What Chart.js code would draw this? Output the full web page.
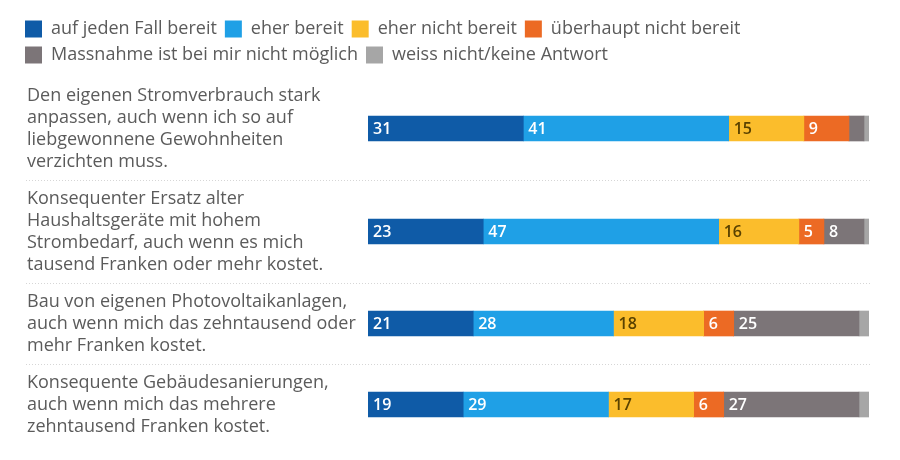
<!DOCTYPE html>
<html>
<head>
<meta charset="utf-8">
<script src="https://cdn.jsdelivr.net/npm/chart.js@4/dist/chart.umd.min.js"></script>
<style>
  html, body { margin: 0; padding: 0; background: #ffffff; }
  #wrap { width: 900px; height: 460px; }
</style>
</head>
<body>
<div id="wrap"><canvas id="c" width="900" height="460"></canvas></div>
<script>
// ---- data ----
const categories = [
  ["Den eigenen Stromverbrauch stark", "anpassen, auch wenn ich so auf", "liebgewonnene Gewohnheiten", "verzichten muss."],
  ["Konsequenter Ersatz alter", "Haushaltsgeräte mit hohem", "Strombedarf, auch wenn es mich", "tausend Franken oder mehr kostet."],
  ["Bau von eigenen Photovoltaikanlagen,", "auch wenn mich das zehntausend oder", "mehr Franken kostet."],
  ["Konsequente Gebäudesanierungen,", "auch wenn mich das mehrere", "zehntausend Franken kostet."]
];
const seriesNames = [
  "auf jeden Fall bereit",
  "eher bereit",
  "eher nicht bereit",
  "überhaupt nicht bereit",
  "Massnahme ist bei mir nicht möglich",
  "weiss nicht/keine Antwort"
];
const aufJedenFall = [31, 23, 21, 19];
const eherBereit = [41, 47, 28, 29];
const eherNicht = [15, 16, 18, 17];
const ueberhauptNicht = [9, 5, 6, 6];
const nichtMoeglich = [3, 8, 25, 27];
const weissNicht = [1, 1, 2, 2];

// ---- styles ----
const colors = ["#0f5ba7", "#1fa0e6", "#fbbd2c", "#ec6a24", "#7c7578", "#a6a6a6"];
const labelColors = ["#ffffff", "#ffffff", "#5a4200", "#ffffff", "#ffffff", "#ffffff"];
const FONT = "'Open Sans', 'Noto Sans', sans-serif";
const TEXT = "#5b5b5b";
const ROW_PAD = 0.68;     // extra row height (in label-line units)
const LABEL_INSET = 10;   // shift of category labels from scale left edge
const MIN_LABEL = 5;

// Category scale whose rows are as tall as their multi-line labels
class WeightedCategoryScale extends Chart.CategoryScale {
  static id = 'weightedCategory';
  static defaults = Chart.CategoryScale.defaults;
  _weights() {
    const labels = this.getLabels();
    return labels.map(l => (Array.isArray(l) ? l.length : 1) + ROW_PAD);
  }
  getPixelForValue(value) {
    if (typeof value !== 'number') value = this.parse(value);
    if (value === null || isNaN(value)) return NaN;
    const w = this._weights();
    const total = w.reduce((a, b) => a + b, 0);
    let i = Math.floor(value + 0.5);
    i = Math.max(0, Math.min(w.length - 1, i));
    const frac = value + 0.5 - i;
    let pos = 0;
    for (let k = 0; k < i; k++) pos += w[k];
    pos += frac * w[i];
    return this.getPixelForDecimal(pos / total);
  }
  getValueForPixel(pixel) {
    const w = this._weights();
    const total = w.reduce((a, b) => a + b, 0);
    const d = this.getDecimalForPixel(pixel) * total;
    let pos = 0;
    for (let k = 0; k < w.length; k++) {
      if (d <= pos + w[k]) return k;
      pos += w[k];
    }
    return w.length - 1;
  }
  _calculatePadding(first, last, sin, cos) {
    super._calculatePadding(first, last, sin, cos);
    this.paddingTop = 0;
    this.paddingBottom = 0;
  }
  _getYAxisLabelAlignment(tl) {
    const r = super._getYAxisLabelAlignment(tl);
    r.x += LABEL_INSET;
    return r;
  }
}
Chart.register(WeightedCategoryScale);

const seriesValues = [aufJedenFall, eherBereit, eherNicht, ueberhauptNicht, nichtMoeglich, weissNicht];

const datasets = seriesValues.map((vals, i) => ({
  label: seriesNames[i],
  data: vals,
  backgroundColor: colors[i],
  borderWidth: 0,
  barThickness: 25
}));

const separatorPlugin = {
  id: 'separators',
  beforeDatasetsDraw(chart) {
    const y = chart.scales.y;
    const ctx = chart.ctx;
    const n = categories.length;
    ctx.save();
    ctx.strokeStyle = '#d6d6d6';
    ctx.lineWidth = 1;
    ctx.setLineDash([1, 2]);
    for (let i = 0; i < n - 1; i++) {
      const py = Math.round(y.getPixelForValue(i + 0.5)) + 0.5;
      ctx.beginPath();
      ctx.moveTo(26, py);
      ctx.lineTo(chart.chartArea.right + 1, py);
      ctx.stroke();
    }
    ctx.restore();
  }
};

const valueLabelPlugin = {
  id: 'valueLabels',
  afterDatasetsDraw(chart) {
    const ctx = chart.ctx;
    ctx.save();
    ctx.font = "600 16px " + FONT;
    ctx.textAlign = 'left';
    ctx.textBaseline = 'middle';
    chart.data.datasets.forEach((ds, di) => {
      const meta = chart.getDatasetMeta(di);
      meta.data.forEach((el, idx) => {
        const v = ds.data[idx];
        if (v < MIN_LABEL) return;
        const start = Math.min(el.base, el.x);
        ctx.fillStyle = labelColors[di];
        ctx.fillText(String(v), start + 5, el.y + 1);
      });
    });
    ctx.restore();
  }
};

const legendSpacePlugin = {
  id: 'legendSpace',
  afterInit(chart) {
    const lg = chart.legend;
    if (!lg) return;
    const orig = lg.fit;
    lg.fit = function () {
      orig.call(this);
      this.height += 3;
    };
  }
};

new Chart(document.getElementById('c'), {
  type: 'bar',
  data: { labels: categories, datasets },
  plugins: [separatorPlugin, valueLabelPlugin, legendSpacePlugin],
  options: {
    indexAxis: 'y',
    responsive: false,
    animation: false,
    events: [],
    layout: { padding: { top: 12, left: 17, right: 31, bottom: 15 } },
    scales: {
      x: {
        stacked: true,
        min: 0,
        max: 100,
        display: false
      },
      y: {
        type: 'weightedCategory',
        stacked: true,
        grid: { display: false },
        border: { display: false },
        ticks: {
          autoSkip: false,
          crossAlign: 'far',
          padding: 0,
          color: TEXT,
          font: { family: FONT, size: 18, lineHeight: 22 / 18 }
        },
        afterFit(scale) { scale.width = 351; }
      }
    },
    plugins: {
      legend: {
        position: 'top',
        align: 'start',
        labels: {
          boxWidth: 17,
          boxHeight: 17,
          padding: 8,
          color: TEXT,
          font: { family: FONT, size: 18 }
        }
      },
      tooltip: { enabled: false }
    }
  }
});
</script>
</body>
</html>
